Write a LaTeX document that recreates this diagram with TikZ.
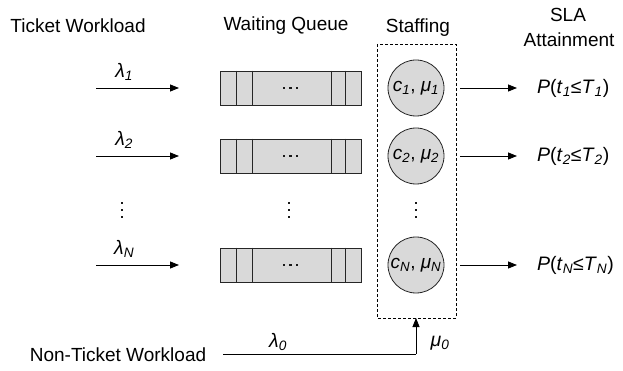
\documentclass[tikz,border=0pt]{standalone}
\usepackage{fontspec}
\setmainfont{Liberation Sans}
\usetikzlibrary{arrows.meta,calc}
\definecolor{boxgray}{HTML}{D9D9D9}
\newcommand\var[2]{\textit{#1}\textsubscript{\textit{#2}}}
\tikzset{
  hdr/.style={font=\fontsize{19}{21}\selectfont, inner sep=0pt},
  lbl/.style={font=\fontsize{19.5}{21}\selectfont, inner sep=0pt},
  queue/.style={draw=black!85, fill=boxgray, line width=0.8pt, minimum width=141pt, minimum height=34pt, inner sep=0pt},
  server/.style={circle, draw=black!85, fill=boxgray, line width=0.8pt, minimum size=56pt, inner sep=0pt, font=\fontsize{19}{21}\selectfont},
  flow/.style={line width=0.8pt, -{Triangle[length=9pt,width=7pt]}},
  dot/.style={fill=black!90, draw=none, minimum size=2.2pt, inner sep=0pt, shape=rectangle},
  pool/.style={draw, line width=0.8pt, dash pattern=on 3pt off 2pt},
}
\begin{document}
\begin{tikzpicture}[x=1pt,y=-1pt]
\useasboundingbox (0,0) rectangle (623,371);

% column headings
\node[hdr] (hTicket) at (78,26) {Ticket Workload};
\node[hdr] (hQueue) at (286,26) {Waiting Queue};
\node[hdr] (hStaff) at (418,28) {Staffing};
\node[hdr] (hSLA) at (568,15) {SLA};
\node[hdr] (hAtt) at (569,40) {Attainment};

% staffing pool
\draw[pool] (377,44) rectangle (456,318);
\coordinate (poolS) at (416,318);

% one row per ticket class
\foreach \r/\y/\s in {1/88/1, 2/156/2, 3/265/N}{
  \coordinate (in\r) at (96,\y);
  \coordinate (qin\r) at (179,\y);
  \node[queue] (q\r) at (290.5,\y) {};
  \foreach \dx in {-6.7,0,6.7} {
    \node[dot] at ([xshift=\dx pt]q\r.center) {};
  }
  \foreach \dx in {17,33} {
    \draw[line width=0.8pt, black!85] ([xshift=\dx pt]q\r.north west) -- ([xshift=\dx pt]q\r.south west);
  }
  \foreach \dx in {16,30} {
    \draw[line width=0.8pt, black!85] ([xshift=-\dx pt]q\r.north east) -- ([xshift=-\dx pt]q\r.south east);
  }
  \draw[flow] (in\r) -- node[lbl, above=7pt, pos=0.34] (lam\r) {\var{λ}{\s}} (qin\r);
  \node[server] (c\r) at (416,\y) {\var{c}{\s}, \var{μ}{\s}};
  \coordinate (out\r) at (460,\y);
  \node[lbl, anchor=west] (p\r) at (537,\y) {\textit{P}(\var{t}{\s}≤\var{T}{\s})};
  \draw[flow] (out\r) -- ([xshift=-20pt]p\r.west);
}

% elided rows
\foreach \x in {122,289,416} {
  \foreach \y in {203,210,217} {
    \node[dot] at (\x,\y) {};
  }
}

% non-ticket workload
\node[hdr] (nonT) at (118,355) {Non-Ticket Workload};
\coordinate (nStart) at (223,354);
\coordinate (nCorner) at (416,354);
\draw[line width=0.8pt] (nStart) -- (nCorner);
\draw[flow] (nCorner) -- (poolS);
\node[lbl] (lam0) at (278,342) {\var{λ}{0}};
\node[lbl] (mu0) at (440,343) {\var{μ}{0}};
\end{tikzpicture}
\end{document}
